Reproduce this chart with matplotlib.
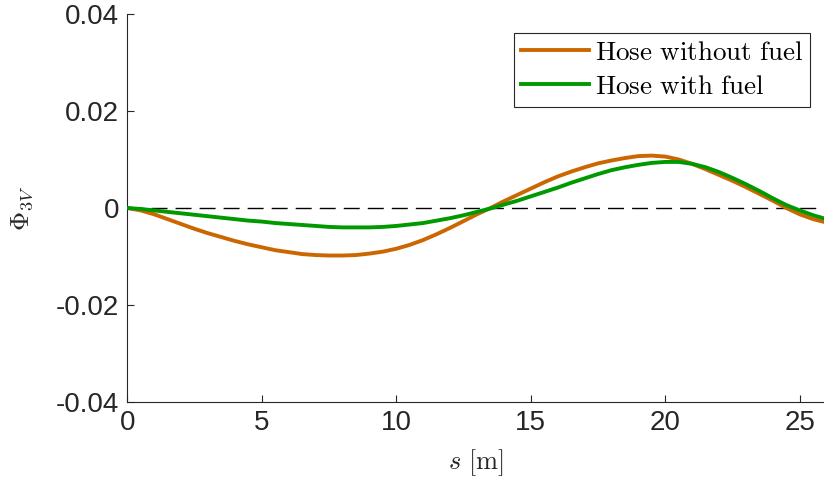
import matplotlib
matplotlib.use("Agg")
import matplotlib.pyplot as plt

plt.rcParams['font.family'] = ['Liberation Sans', 'DejaVu Sans']
plt.rcParams['mathtext.fontset'] = 'cm'
plt.rcParams['axes.unicode_minus'] = False

s = [i * 0.5 for i in range(0, 53)]
phi_without = [0, -0.0005, -0.0013, -0.0023, -0.0033, -0.0043, -0.0052, -0.0060, -0.0068,
               -0.0075, -0.0081, -0.0087, -0.0091, -0.0095, -0.0097, -0.0098, -0.0098,
               -0.0097, -0.0094, -0.0090, -0.0084, -0.0076, -0.0066, -0.0054, -0.0041,
               -0.0027, -0.0013, 0.0000, 0.0014, 0.0027, 0.0040, 0.0053, 0.0065, 0.0075,
               0.0084, 0.0092, 0.0098, 0.0103, 0.0107, 0.0108, 0.0106, 0.0100, 0.0091,
               0.0080, 0.0068, 0.0056, 0.0043, 0.0029, 0.0015, 0.0000, -0.0013, -0.0023,
               -0.0030]
phi_with = [0, -0.0002, -0.0005, -0.0008, -0.0011, -0.0014, -0.0017, -0.0020, -0.0023,
            -0.0026, -0.0028, -0.0031, -0.0033, -0.0035, -0.0037, -0.0039, -0.0040,
            -0.0040, -0.0040, -0.0039, -0.0037, -0.0034, -0.0031, -0.0026, -0.0021,
            -0.0015, -0.0008, -0.0001, 0.0007, 0.0015, 0.0024, 0.0033, 0.0042, 0.0052,
            0.0061, 0.0070, 0.0078, 0.0084, 0.0089, 0.0093, 0.0095, 0.0095, 0.0091,
            0.0084, 0.0074, 0.0062, 0.0049, 0.0035, 0.0020, 0.0006, -0.0005, -0.0015,
            -0.0023]
labels = [r'$\mathrm{Hose\ without\ fuel}$', r'$\mathrm{Hose\ with\ fuel}$']
xticks = [0, 5, 10, 15, 20, 25]
yticks = [-0.04, -0.02, 0, 0.02, 0.04]
yticklabels = ['-0.04', '-0.02', '0', '0.02', '0.04']

W, H = 824, 488
fig = plt.figure(figsize=(W / 100, H / 100), dpi=100)
ax = fig.add_axes([127.3 / W, 1 - 402 / H, (W - 127.3) / W, 388 / H])

ax.axhline(0, color='black', lw=1.0, linestyle=(0, (11.5, 5.8)), zorder=1)
ax.plot(s, phi_without, color=(0.8, 0.4, 0.0), lw=2.8, label=labels[0], zorder=2)
ax.plot(s, phi_with, color=(0.0, 0.6, 0.0), lw=2.8, label=labels[1], zorder=3)

ax.set_xlim(0, 25.9)
ax.set_ylim(-0.04, 0.04)
ax.set_xticks(xticks)
ax.set_xticklabels([str(v) for v in xticks])
ax.set_yticks(yticks)
ax.set_yticklabels(yticklabels)

for sp in ['top', 'right']:
    ax.spines[sp].set_visible(False)
for sp in ['left', 'bottom']:
    ax.spines[sp].set_color('#262626')
    ax.spines[sp].set_linewidth(0.8)
ax.tick_params(direction='in', length=5, width=0.8, colors='#262626',
               labelsize=20, labelcolor='#262626', pad=6)

ax.set_xlabel(r'$s\ \mathrm{[m]}$', fontsize=19, color='#262626')
ax.xaxis.label.set_va('center')
ax.xaxis.set_label_coords(0.5, (402 - 463) / 388)
ax.set_ylabel(r'$\Phi_{3V}$', fontsize=19, color='#262626')
ax.yaxis.label.set_va('center')
ax.yaxis.set_label_coords((22 - 127.3) / (W - 127.3), 0.5)

leg = ax.legend(loc='upper right', bbox_to_anchor=(810 / W, 1 - 33 / H),
                bbox_transform=fig.transFigure, fontsize=19.5, frameon=True,
                fancybox=False, edgecolor='#262626', framealpha=1,
                handlelength=2.5, handletextpad=0.22, labelspacing=0.3,
                borderpad=0.25, borderaxespad=0)
leg.get_frame().set_linewidth(0.8)

fig.savefig('out.png', dpi=100)
